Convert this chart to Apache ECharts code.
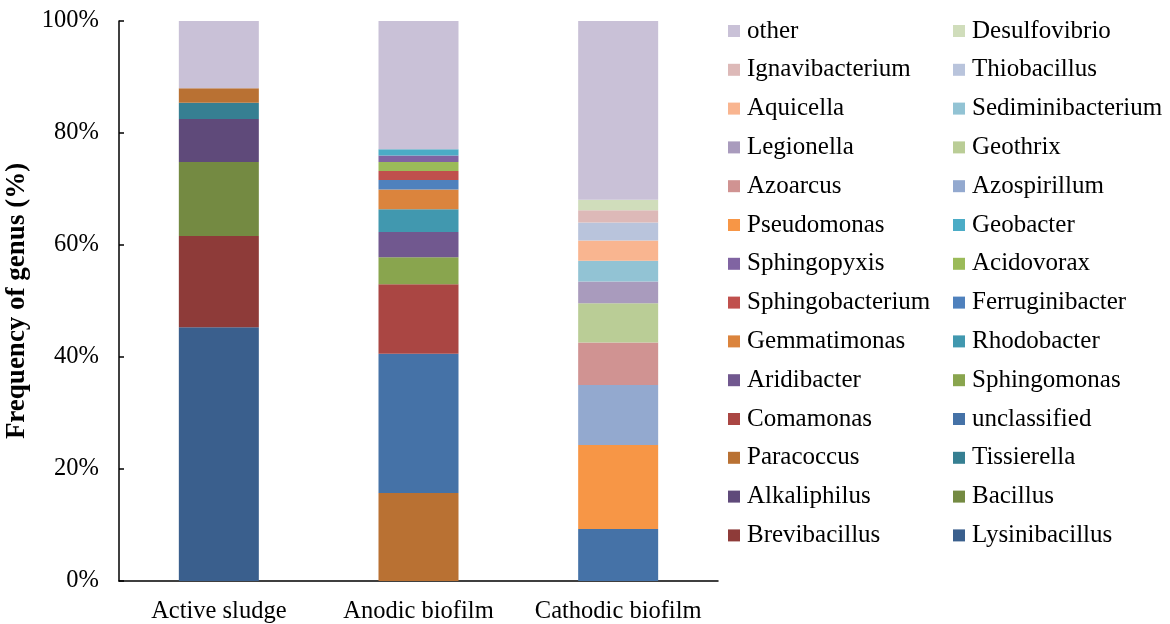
<!DOCTYPE html>
<html>
<head>
<meta charset="utf-8">
<script src="https://cdn.jsdelivr.net/npm/echarts@6/dist/echarts.min.js"></script>
<style>html,body{margin:0;padding:0;background:#fff;}#c{width:1170px;height:624px;}</style>
</head>
<body>
<div id="c"></div>
<script>
const categories = ['Active sludge', 'Anodic biofilm', 'Cathodic biofilm'];
const genera = ['Lysinibacillus','Brevibacillus','Bacillus','Alkaliphilus','Tissierella','Paracoccus','unclassified','Comamonas','Sphingomonas','Aridibacter','Rhodobacter','Gemmatimonas','Ferruginibacter','Sphingobacterium','Acidovorax','Sphingopyxis','Geobacter','Pseudomonas','Azospirillum','Azoarcus','Geothrix','Legionella','Sediminibacterium','Aquicella','Thiobacillus','Ignavibacterium','Desulfovibrio','other'];
// values (%) per sample, in the genus order above
const activeSludge   = [45.3,16.3,13.2,7.7,2.9,2.6, 0,0,0,0,0,0,0,0,0,0,0, 0,0,0,0,0,0,0,0,0,0, 12.0];
const anodicBiofilm  = [0,0,0,0,0,15.7, 24.9,12.4,4.8,4.5,4.1,3.5,1.7,1.6,1.6,1.2,1.1, 0,0,0,0,0,0,0,0,0,0, 22.9];
const cathodicBiofilm= [0,0,0,0,0,0, 9.3,0,0,0,0,0,0,0,0,0,0, 15.0,10.7,7.6,7.0,3.9,3.7,3.6,3.2,2.2,1.9, 31.9];
const yTicks = [0,20,40,60,80,100];
const colors = ['#3A5F8D','#8E3B39','#748A42','#5F4A7A','#367F92','#B97133','#4572A7','#AA4643','#89A54E','#71588F','#4198AF','#DB843D','#4F81BD','#C0504D','#9BBB59','#8064A2','#4BACC6','#F79646','#93A9CF','#D09392','#BACD96','#A99BBD','#92C3D4','#F9B590','#B9C4DC','#DDB9B8','#D0DDBB','#C9C1D7'];

const legendCol1 = ['other','Ignavibacterium','Aquicella','Legionella','Azoarcus','Pseudomonas','Sphingopyxis','Sphingobacterium','Gemmatimonas','Aridibacter','Comamonas','Paracoccus','Alkaliphilus','Brevibacillus'];
const legendCol2 = ['Desulfovibrio','Thiobacillus','Sediminibacterium','Geothrix','Azospirillum','Geobacter','Acidovorax','Ferruginibacter','Rhodobacter','Sphingomonas','unclassified','Tissierella','Bacillus','Lysinibacillus'];

const font = 'Liberation Serif, Times New Roman, serif';
const series = genera.map((g, i) => ({
  name: g,
  type: 'bar',
  stack: 'total',
  barWidth: 80,
  itemStyle: { color: colors[i] },
  data: [activeSludge[i], anodicBiofilm[i], cathodicBiofilm[i]]
}));

const legendBase = {
  orient: 'vertical',
  top: 18.5,
  padding: 0,
  itemWidth: 12,
  itemHeight: 12,
  itemGap: 13.8,
  icon: 'rect',
  textStyle: { fontFamily: font, fontSize: 25, color: '#000', lineHeight: 25, padding: [0,0,0,2] },
  selectedMode: false
};

const chart = echarts.init(document.getElementById('c'));
chart.setOption({
  animation: false,
  backgroundColor: '#fff',
  color: colors,
  grid: { left: 119, right: 452, top: 21, bottom: 43, containLabel: false, outerBoundsMode: 'none' },
  legend: [
    Object.assign({}, legendBase, { left: 728, data: legendCol1 }),
    Object.assign({}, legendBase, { left: 953, data: legendCol2 })
  ],
  xAxis: {
    type: 'category',
    data: categories,
    axisLine: { lineStyle: { color: '#000', width: 1.5 } },
    axisTick: { show: false },
    axisLabel: { fontFamily: font, fontSize: 24.5, color: '#000', margin: 18, interval: 0, hideOverlap: false }
  },
  yAxis: {
    type: 'value',
    min: yTicks[0],
    max: yTicks[yTicks.length - 1],
    interval: 20,
    name: 'Frequency of genus (%)',
    nameLocation: 'middle',
    nameGap: 84,
    nameTextStyle: { fontFamily: font, fontSize: 27, fontWeight: 'bold', color: '#000' },
    axisLine: { show: true, lineStyle: { color: '#000', width: 1.5 } },
    axisTick: { show: true, inside: true, length: 5, lineStyle: { color: '#000', width: 1.5 } },
    splitLine: { show: false },
    axisLabel: { fontFamily: font, fontSize: 24.5, color: '#000', margin: 20, formatter: '{value}%' }
  },
  series: series
});
</script>
</body>
</html>
